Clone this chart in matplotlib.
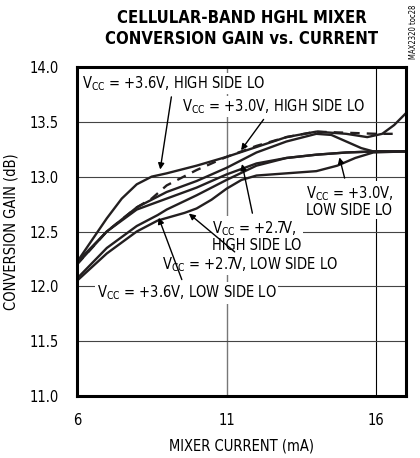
import numpy as np
import matplotlib
matplotlib.use("Agg")
import matplotlib.pyplot as plt

plt.rcParams['font.family'] = ['DejaVu Sans']
plt.rcParams['font.stretch'] = 'condensed'
plt.rcParams['mathtext.fontset'] = 'custom'
plt.rcParams['mathtext.rm'] = 'DejaVu Sans:stretch=condensed'
plt.rcParams['mathtext.it'] = 'DejaVu Sans:stretch=condensed'

# data (mA, dB)
hi36_x = [6, 6.5, 7, 7.5, 8, 8.5, 9, 10, 11, 12, 13, 14, 15, 15.7, 16.2, 16.6, 17]
hi36_y = [12.22, 12.42, 12.62, 12.8, 12.93, 13.0, 13.03, 13.1, 13.18, 13.27, 13.36, 13.41, 13.39, 13.36, 13.39, 13.47, 13.58]

hi30_x = [6, 7, 8, 8.5, 9, 10, 11, 12, 13, 14, 15, 16, 16.7]
hi30_y = [12.2, 12.5, 12.72, 12.8, 12.92, 13.06, 13.18, 13.28, 13.36, 13.41, 13.4, 13.39, 13.39]

hi27_x = [6, 7, 8, 9, 10, 11, 12, 13, 14, 14.5, 15, 15.5, 15.9, 17]
hi27_y = [12.2, 12.5, 12.72, 12.86, 12.96, 13.08, 13.22, 13.32, 13.39, 13.38, 13.32, 13.26, 13.23, 13.23]

lo30_x = [6, 7, 8, 9, 10, 11, 12, 13, 14, 15, 16, 17]
lo30_y = [12.22, 12.5, 12.7, 12.8, 12.9, 13.02, 13.12, 13.17, 13.2, 13.22, 13.23, 13.23]

lo27_x = [6, 7, 8, 8.7, 9.6, 10, 10.5, 11, 11.5, 12, 13, 14, 14.7, 15.3, 15.9, 17]
lo27_y = [12.05, 12.3, 12.5, 12.6, 12.67, 12.71, 12.79, 12.89, 12.97, 13.01, 13.03, 13.05, 13.1, 13.17, 13.22, 13.23]

lo36_x = [6, 7, 8, 8.7, 9, 10, 11, 12, 13, 14, 15, 16, 17]
lo36_y = [12.07, 12.35, 12.55, 12.65, 12.7, 12.83, 12.97, 13.1, 13.17, 13.2, 13.22, 13.23, 13.23]

x_ticks = [6, 11, 16]
y_ticks = [11.0, 11.5, 12.0, 12.5, 13.0, 13.5, 14.0]

fig = plt.figure(figsize=(4.2, 4.58), dpi=100)
ax = fig.add_axes([0.183, 0.135, 0.784, 0.719])

lw = 1.7
ax.plot(hi36_x, hi36_y, color='#231f20', lw=lw)
ax.plot(hi30_x, hi30_y, color='#231f20', lw=lw, ls=(0, (4, 3)))
ax.plot(hi27_x, hi27_y, color='#231f20', lw=lw)
ax.plot(lo30_x, lo30_y, color='#231f20', lw=lw)
ax.plot(lo27_x, lo27_y, color='#231f20', lw=lw)
ax.plot(lo36_x, lo36_y, color='#231f20', lw=lw)

ax.set_xlim(6, 17)
ax.set_ylim(11, 14)
ax.set_xticks(x_ticks)
ax.set_yticks(y_ticks)
ax.set_yticklabels(['%.1f' % v for v in y_ticks])
ax.tick_params(length=0, labelsize=10.5)
ax.tick_params(axis='x', pad=12)
ax.tick_params(axis='y', pad=13)
for s in ax.spines.values():
    s.set_linewidth(2.2)
ax.axvline(11, color='#777777', lw=1.0, zorder=0)
ax.axvline(16, color='black', lw=0.8, zorder=0)
for v in [11.5, 12.0, 12.5, 13.0, 13.5]:
    ax.axhline(v, color='#444444', lw=0.8, zorder=0)

ax.set_xlabel('MIXER CURRENT (mA)', fontsize=10.5, labelpad=8)
ax.set_ylabel('CONVERSION GAIN (dB)', fontsize=10.5, labelpad=8)
fig.text(0.575, 0.98, 'CELLULAR-BAND HGHL MIXER\nCONVERSION GAIN vs. CURRENT',
         ha='center', va='top', fontsize=12, fontweight='heavy', linespacing=1.2)
fig.text(0.985, 0.99, 'MAX2320 toc28', rotation=90, ha='center', va='top', fontsize=5.5)

box = dict(fc='white', ec='none', pad=1)
arr = dict(arrowstyle='-|>', color='black', lw=1.0, mutation_scale=9)
V = r'V$_{\mathrm{CC}}$'
notes = [
    (V + ' = +3.6V, HIGH SIDE LO', (8.77, 13.04), (6.17, 13.85)),
    (V + ' = +3.0V, HIGH SIDE LO', (11.43, 13.22), (9.5, 13.64)),
    (V + ' = +3.0V,\nLOW SIDE LO', (14.75, 13.2), (13.67, 12.78)),
    (V + ' = +2.7V,\nHIGH SIDE LO', (11.5, 13.14), (10.53, 12.46)),
    (V + ' = +2.7V, LOW SIDE LO', (9.67, 12.68), (8.83, 12.2)),
    (V + ' = +3.6V, LOW SIDE LO', (8.7, 12.65), (6.67, 11.94)),
]
for txt, tip, pos in notes:
    ax.annotate(txt, xy=tip, xytext=pos, ha='left', va='center', fontsize=10.5,
                bbox=box, arrowprops=arr, linespacing=1.0)

fig.savefig('out.png', dpi=100)
